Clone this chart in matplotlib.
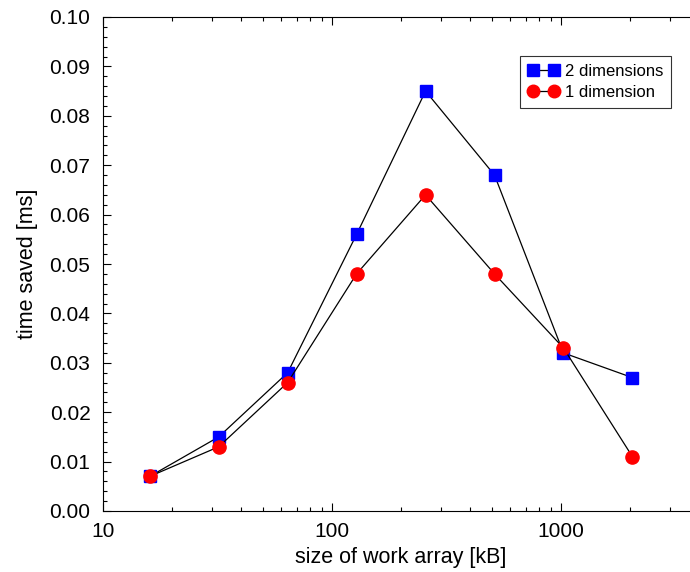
import matplotlib
matplotlib.use('Agg')
import matplotlib.pyplot as plt
from matplotlib.ticker import MultipleLocator, LogLocator, NullFormatter, FixedLocator, FixedFormatter

# work array size [kB]
sizes = [16, 32, 64, 128, 256, 512, 1024, 2048]
# time saved [ms]
saved_2d = [0.007, 0.015, 0.028, 0.056, 0.085, 0.068, 0.032, 0.027]
saved_1d = [0.007, 0.013, 0.026, 0.048, 0.064, 0.048, 0.033, 0.011]

plt.rcParams['font.family'] = ['Liberation Sans', 'DejaVu Sans']

fig = plt.figure(figsize=(6.9, 5.72), dpi=100)
ax = fig.add_axes([103 / 690, 1 - 511 / 572, 596 / 690, 494 / 572])

ax.plot(sizes, saved_2d, color='black', lw=0.9, marker='s', ms=8.5,
        mfc='#0000ff', mec='#0000ff', label='2 dimensions', zorder=3)
ax.plot(sizes, saved_1d, color='black', lw=0.9, marker='o', ms=9.5,
        mfc='#ff0000', mec='#ff0000', label='1 dimension', zorder=4)

ax.set_xscale('log')
ax.set_xlim(10, 4000)
ax.set_ylim(0, 0.10)

ax.xaxis.set_major_locator(FixedLocator([10, 100, 1000]))
ax.xaxis.set_major_formatter(FixedFormatter(['10', '100', '1000']))
ax.xaxis.set_minor_locator(LogLocator(base=10, subs=range(2, 10)))
ax.xaxis.set_minor_formatter(NullFormatter())
ax.yaxis.set_major_locator(MultipleLocator(0.01))
ax.yaxis.set_minor_locator(MultipleLocator(0.002))
ax.yaxis.set_major_formatter(plt.FuncFormatter(lambda v, p: '{:.2f}'.format(v)))

ax.tick_params(which='both', direction='in', top=True, right=False, labelsize=15)
ax.tick_params(which='major', length=6, width=0.8)
ax.tick_params(which='minor', length=3, width=0.8)
ax.tick_params(axis='x', pad=8)
ax.tick_params(axis='y', pad=9)
ax.spines['right'].set_visible(False)

ax.set_xlabel('size of work array [kB]', fontsize=15.5, labelpad=4)
ax.set_ylabel('time saved [ms]', fontsize=15.5, labelpad=8)

leg = ax.legend(loc='upper left', bbox_to_anchor=(0.70, 0.921), fontsize=12,
                frameon=True, fancybox=False, edgecolor='black', numpoints=2,
                borderpad=0.45, handlelength=1.9, handletextpad=0.35,
                labelspacing=0.4, borderaxespad=0, markerscale=0.95)
leg.get_frame().set_linewidth(0.8)

plt.savefig('out.png', dpi=100)
plt.close()
